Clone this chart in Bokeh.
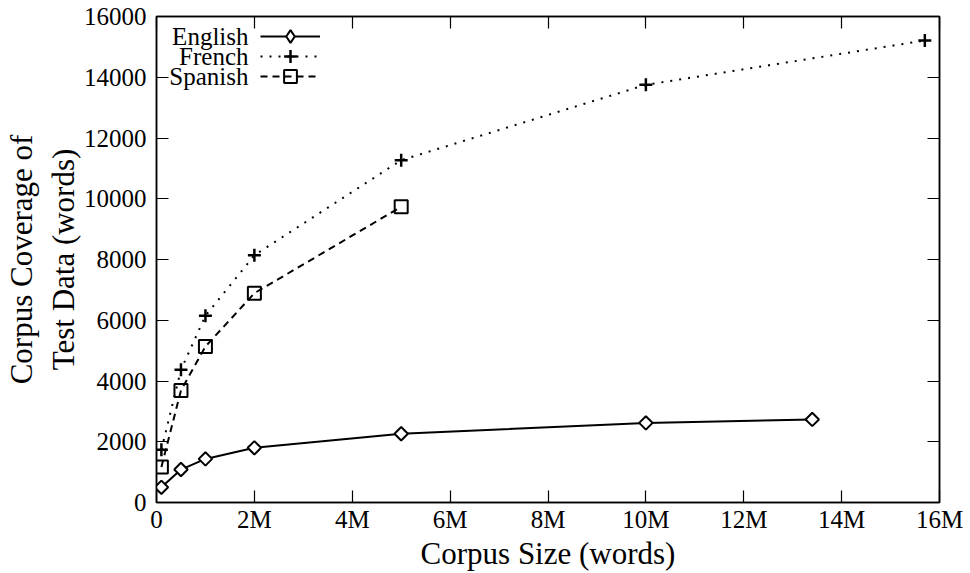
from bokeh.plotting import figure
from bokeh.models import (Range1d, FixedTicker, LinearAxis, Legend, LegendItem, Label)
from bokeh.embed import file_html
from bokeh.resources import INLINE
import math

# ---- data ----
english_x = [100000, 500000, 1000000, 2000000, 5000000, 10000000, 13400000]
english_y = [500, 1085, 1435, 1800, 2265, 2620, 2735]

french_x = [100000, 500000, 1000000, 2000000, 5000000, 10000000, 15700000]
french_y = [1740, 4370, 6150, 8140, 11270, 13750, 15210]

spanish_x = [100000, 500000, 1000000, 2000000, 5000000]
spanish_y = [1170, 3690, 5135, 6890, 9735]

x_ticks = [0, 2000000, 4000000, 6000000, 8000000, 10000000, 12000000, 14000000, 16000000]
x_tick_labels = ["0", "2M", "4M", "6M", "8M", "10M", "12M", "14M", "16M"]
y_ticks = [0, 2000, 4000, 6000, 8000, 10000, 12000, 14000, 16000]

series_names = ["English", "French", "Spanish"]

FONT = "Liberation Serif"

p = figure(width=970, height=573, output_backend="svg", toolbar_location=None,
           x_range=Range1d(0, 16000000), y_range=Range1d(0, 16000),
           min_border_left=154, min_border_right=31, min_border_top=16,
           min_border_bottom=70, x_axis_type=None, y_axis_type=None)
p.grid.visible = False
p.outline_line_color = "black"
p.outline_line_width = 1.5
p.background_fill_color = "white"
p.border_fill_color = "white"

def style_axis(ax, labels=True):
    ax.axis_line_color = "black"
    ax.axis_line_width = 1.5
    ax.major_tick_in = 12
    ax.major_tick_out = 0
    ax.major_tick_line_color = "black"
    ax.major_tick_line_width = 1.2
    ax.minor_tick_line_color = None
    ax.major_label_text_font = FONT
    ax.axis_label_text_font = FONT
    ax.axis_label_text_font_style = "normal"
    ax.axis_label_text_color = "black"
    ax.major_label_text_color = "black"
    if labels:
        ax.major_label_text_font_size = "25px"
        ax.axis_label_text_font_size = "31px"
    else:
        ax.major_label_text_font_size = "0px"
        ax.major_label_standoff = 0

xb = LinearAxis(ticker=FixedTicker(ticks=x_ticks))
xb.major_label_overrides = {t: l for t, l in zip(x_ticks, x_tick_labels)}
style_axis(xb)
xb.major_label_standoff = 3
xb.axis_label = "Corpus Size (words)"
xb.axis_label_standoff = 0
p.add_layout(xb, "below")

yl = LinearAxis(ticker=FixedTicker(ticks=y_ticks))
style_axis(yl)
yl.major_label_standoff = 10
yl.axis_label = "Corpus Coverage of\nTest Data (words)"
yl.axis_label_standoff = 0
p.add_layout(yl, "left")

xt = LinearAxis(ticker=FixedTicker(ticks=x_ticks))
style_axis(xt, labels=False)
xt.major_label_overrides = {t: "" for t in x_ticks}
p.add_layout(xt, "above")

yr = LinearAxis(ticker=FixedTicker(ticks=y_ticks))
style_axis(yr, labels=False)
yr.major_label_overrides = {t: "" for t in y_ticks}
p.add_layout(yr, "right")

# English: solid line with open diamonds
l_en = p.line(english_x, english_y, line_color="black", line_width=2)
# legend-only diamond (zero size on the plot; the legend sizes it from the key box)
k_en = p.scatter(english_x, english_y, marker="diamond", size=0,
                 line_color="black", line_width=2, fill_color="white")
m_en = p.scatter(english_x, english_y, marker="square", size=9.5, angle=math.pi / 4,
                 line_color="black", line_width=2, fill_color="white")
# French: dotted line with plus markers
l_fr = p.line(french_x, french_y, line_color="black", line_width=2, line_dash="2 7")
m_fr = p.scatter(french_x, french_y, marker="cross", size=13,
                 line_color="black", line_width=2.5)
# Spanish: dashed line with open squares
l_es = p.line(spanish_x, spanish_y, line_color="black", line_width=2, line_dash="7 5")
m_es = p.scatter(spanish_x, spanish_y, marker="square", size=13,
                 line_color="black", line_width=2, fill_alpha=0)

# one legend per row (gnuplot key: label on the left, sample on the right)
row_items = [[l_en, k_en], [l_fr, m_fr], [l_es, m_es]]
row_bottoms = [450, 430, 410]
for rends, yb in zip(row_items, row_bottoms):
    lg = Legend(items=[LegendItem(label=" ", renderers=rends)], orientation="vertical")
    lg.margin = 0
    lg.padding = 0
    lg.spacing = 0
    lg.border_line_color = None
    lg.background_fill_alpha = 0
    lg.glyph_width = 60
    lg.glyph_height = 32
    lg.label_height = 20
    lg.label_width = 0
    lg.label_standoff = 0
    lg.label_text_font_size = "10px"
    lg.location = (104, yb)
    p.add_layout(lg, "center")

for name, sy in zip(series_names, [466, 446, 426]):
    p.add_layout(Label(x=92, y=sy, x_units="screen", y_units="screen", text=name,
                       text_align="right", text_baseline="middle",
                       text_font=FONT, text_font_size="25px", text_color="black"))

open("out.html", "w").write(file_html(p, INLINE))
